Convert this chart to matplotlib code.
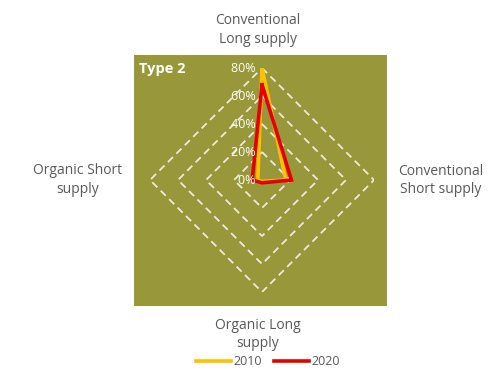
import numpy as np
import matplotlib.pyplot as plt
from matplotlib.patches import Rectangle

# data (share of farms, %)
categories = ['Conventional\nLong supply', 'Conventional\nShort supply',
              'Organic Long\nsupply', 'Organic Short\nsupply']
series_2010 = [80, 17, 1, 3]
series_2020 = [68, 21, 2, 7]
ring_levels = [20, 40, 60, 80]
tick_labels = ['0%', '20%', '40%', '60%', '80%']

OLIVE = '#98973a'
YELLOW = '#ffc000'
RED = '#e60000'
GREY = '#595959'

plt.rcParams['font.family'] = ['Open Sans', 'DejaVu Sans']

fig = plt.figure(figsize=(4.92, 3.71), dpi=100)

# olive plot area (behind the radar axes)
fig.patches.append(Rectangle((0.2724, 0.1752), 0.5142, 0.6765,
                             transform=fig.transFigure, facecolor=OLIVE,
                             edgecolor='none', zorder=-5))

ax = fig.add_axes([0.3049, 0.2129, 0.4553, 0.6038], projection='polar')
ax.patch.set_visible(False)
ax.set_theta_offset(np.pi / 2)
ax.set_theta_direction(-1)
ax.set_ylim(0, 80)
ax.grid(False)
ax.spines['polar'].set_visible(False)
ax.set_xticks([])
ax.set_yticks([])

angles = np.linspace(0, 2 * np.pi, len(categories), endpoint=False)
closed = np.append(angles, angles[0])

# dashed diamond grid
for lvl in ring_levels:
    ax.plot(closed, [lvl] * (len(categories) + 1), color='#ebebdc',
            lw=1.3, ls=(0, (4, 2.6)), zorder=1)

for vals, col in [(series_2010, YELLOW), (series_2020, RED)]:
    ax.plot(closed, vals + vals[:1], color=col, lw=2.6, zorder=3,
            solid_joinstyle='miter')

# radial tick labels
for i, lab in enumerate(tick_labels):
    ax.text(0, i * 20, lab + '  ', ha='right', va='center', fontsize=9,
            color='white', zorder=4)

fig.text(0.283, 0.815, 'Type 2', fontsize=10.5, fontweight='bold', color='white',
         ha='left', va='center')

# category labels
lab_kw = dict(ha='center', va='center', fontsize=10, color=GREY, linespacing=1.3)
fig.text(0.524, 0.919, categories[0], **lab_kw)
fig.text(0.895, 0.513, categories[1], **lab_kw)
fig.text(0.524, 0.098, categories[2], **lab_kw)
fig.text(0.158, 0.515, categories[3], **lab_kw)

# legend
h1, = ax.plot([], [], color=YELLOW, lw=2.6)
h2, = ax.plot([], [], color=RED, lw=2.6)
fig.legend([h1, h2], ['2010', '2020'], loc='center', ncol=2,
           bbox_to_anchor=(0.545, 0.025), frameon=False, fontsize=9,
           handlelength=2.8, handletextpad=0.2, columnspacing=1.0,
           labelcolor=GREY)

fig.savefig('out.png', dpi=100)
